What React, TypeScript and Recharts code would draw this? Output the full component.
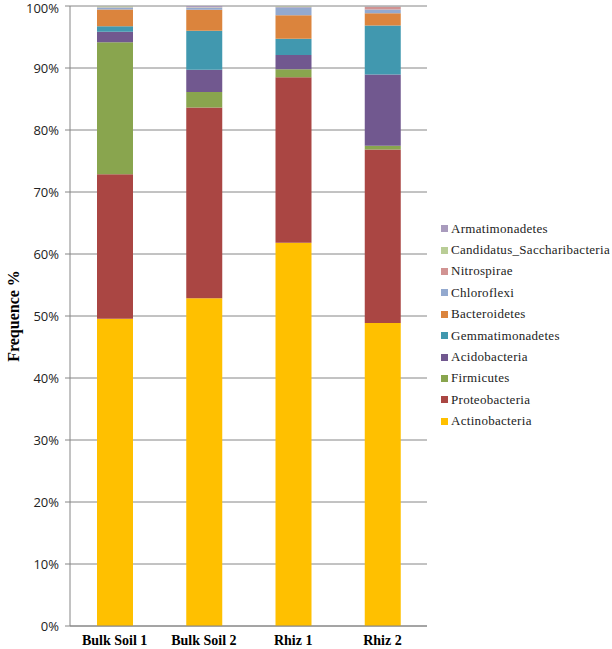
import { Bar, BarChart, CartesianGrid, XAxis, YAxis } from 'recharts'

const samples = ['Bulk Soil 1', 'Bulk Soil 2', 'Rhiz 1', 'Rhiz 2']

const actinobacteria = [49.6, 52.9, 61.8, 48.9]
const proteobacteria = [23.3, 30.8, 26.7, 28.0]
const firmicutes = [21.3, 2.5, 1.3, 0.6]
const acidobacteria = [1.7, 3.6, 2.3, 11.5]
const gemmatimonadetes = [0.9, 6.3, 2.6, 7.9]
const bacteroidetes = [2.7, 3.4, 3.8, 2.0]
const chloroflexi = [0.3, 0.3, 1.3, 0.6]
const nitrospirae = [0.05, 0.05, 0.05, 0.4]
const saccharibacteria = [0.15, 0.05, 0.1, 0.05]
const armatimonadetes = [0.05, 0.2, 0.05, 0.1]

const yTicks = [0, 0.1, 0.2, 0.3, 0.4, 0.5, 0.6, 0.7, 0.8, 0.9, 1]

// bottom to top in the stack
const series = [
  { key: 'Actinobacteria', values: actinobacteria, color: '#FFC000' },
  { key: 'Proteobacteria', values: proteobacteria, color: '#AA4643' },
  { key: 'Firmicutes', values: firmicutes, color: '#89A54E' },
  { key: 'Acidobacteria', values: acidobacteria, color: '#71588F' },
  { key: 'Gemmatimonadetes', values: gemmatimonadetes, color: '#4198AF' },
  { key: 'Bacteroidetes', values: bacteroidetes, color: '#DB843D' },
  { key: 'Chloroflexi', values: chloroflexi, color: '#93A9CF' },
  { key: 'Nitrospirae', values: nitrospirae, color: '#D19392' },
  { key: 'Candidatus_Saccharibacteria', values: saccharibacteria, color: '#B9CD96' },
  { key: 'Armatimonadetes', values: armatimonadetes, color: '#A99BBD' },
]

const data = samples.map((name, i) => {
  const row: Record<string, any> = { name }
  series.forEach((s) => {
    row[s.key] = s.values[i]
  })
  return row
})

const SERIF = '"Liberation Serif", "Times New Roman", serif'
const SANS = '"Open Sans", "Liberation Sans", sans-serif'
const AXIS = '#868686'

// legend sits over the right side of the page, outside the plot area
const LegendBox = () => (
  <div
    style={{
      position: 'absolute',
      left: 441,
      top: 218,
      fontFamily: SERIF,
      fontSize: 13,
      color: '#222',
    }}
  >
    {[...series].reverse().map((s) => (
      <div
        key={s.key}
        style={{ display: 'flex', alignItems: 'center', height: 21.4, whiteSpace: 'nowrap' }}
      >
        <span
          style={{ width: 7, height: 7, background: s.color, marginRight: 3, display: 'inline-block' }}
        />
        <span style={{ letterSpacing: 0.3 }}>{s.key}</span>
      </div>
    ))}
  </div>
)

const YTitle = () => (
  <text
    x={13}
    y={316}
    transform="rotate(-90 13 316)"
    textAnchor="middle"
    dominantBaseline="central"
    fontFamily={SERIF}
    fontWeight="bold"
    fontSize={16}
    fill="#000"
  >
    Frequence %
  </text>
)

export default function App() {
  return (
    <div style={{ position: 'absolute', left: 0, top: 0, width: 612, height: 649, background: '#fff' }}>
      <BarChart
        width={612}
        height={649}
        data={data}
        stackOffset="expand"
        margin={{ top: 6, right: 185, bottom: 0, left: 0 }}
        barSize={36}
      >
        <CartesianGrid vertical={false} stroke={AXIS} strokeWidth={1} />
        <XAxis
          dataKey="name"
          xAxisId="cat"
          height={23}
          axisLine={{ stroke: AXIS }}
          tickLine={false}
          tick={{ fontFamily: SERIF, fontWeight: 'bold', fontSize: 14, fill: '#000' }}
          tickMargin={3}
          interval={0}
        />
        <XAxis
          xAxisId="edge"
          type="number"
          domain={[0, 4]}
          ticks={[0, 1, 2, 3, 4]}
          height={0}
          axisLine={false}
          tickLine={{ stroke: AXIS }}
          tickSize={5}
          tick={false}
        />
        <YAxis
          width={70}
          domain={[0, 1]}
          ticks={yTicks}
          tickFormatter={(v: number) => `${Math.round(v * 100)}%`}
          axisLine={{ stroke: AXIS }}
          tickLine={{ stroke: AXIS }}
          tickSize={5}
          tickMargin={6}
          tick={{ fontFamily: SANS, fontSize: 13, fill: '#222' }}
          label={{ content: () => <YTitle /> }}
        />
        {series.map((s) => (
          <Bar
            key={s.key}
            dataKey={s.key}
            xAxisId="cat"
            stackId="a"
            fill={s.color}
            isAnimationActive={false}
          />
        ))}
      </BarChart>
      <LegendBox />
    </div>
  )
}
